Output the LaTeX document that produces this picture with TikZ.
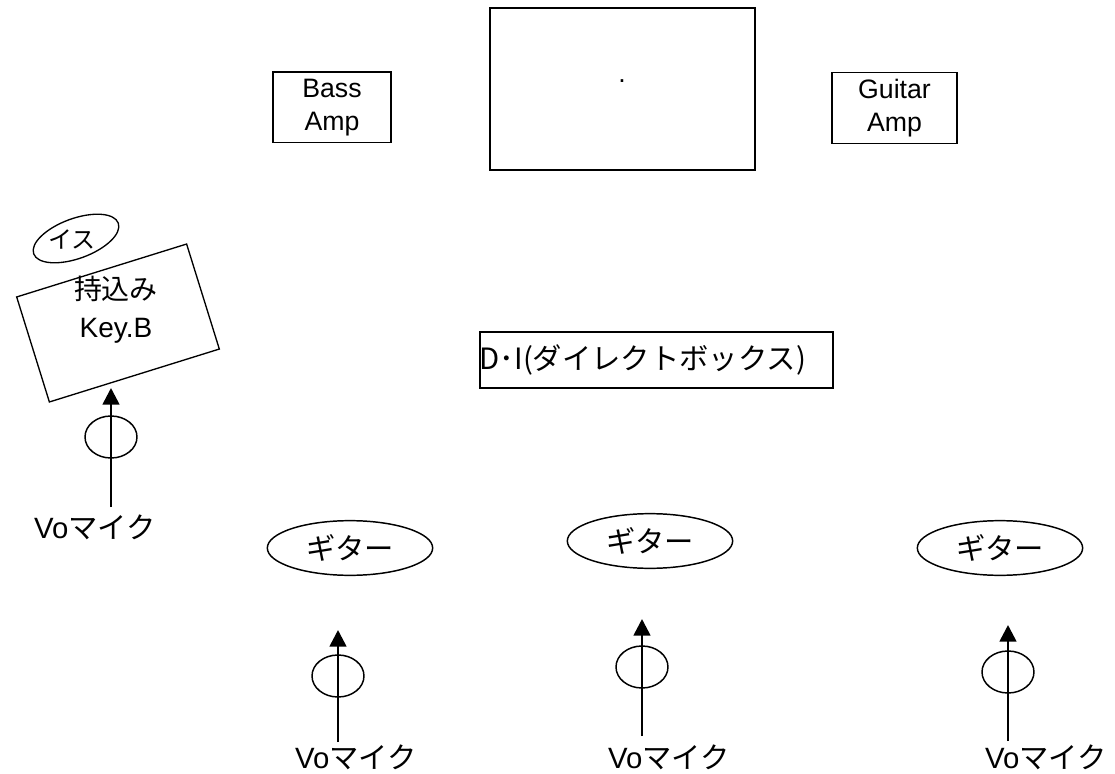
\documentclass[tikz,border=0pt]{standalone}
\usepackage{fontspec}
\setmainfont{Liberation Sans}
\newfontfamily\cjk{Noto Sans CJK JP}
\usetikzlibrary{arrows.meta,shapes.geometric}

\begin{document}
\begin{tikzpicture}[x=0.75pt,y=-0.75pt,
        ampbox/.style={draw=black, line width=1pt, align=center, inner sep=0pt,
            minimum width=#1, minimum height=53pt, font=\fontsize{20}{24.75}\selectfont},
        guitar/.style={draw=black, ellipse, line width=1.1pt, inner sep=0pt,
            minimum width=124pt, minimum height=41pt, font=\cjk\fontsize{22}{24}\selectfont},
        micring/.style={draw=black, ellipse, line width=1.1pt, minimum width=39pt, minimum height=31.5pt},
        micline/.style={draw=black, line width=2pt, -{Triangle[length=12.5pt,width=12.5pt]}},
        miclabel/.style={anchor=base, inner sep=0pt, font=\fontsize{22}{24}\selectfont}]
    \useasboundingbox (0,0) rectangle (1115,774);

    % amps and the box at the back
    \node (bass) [ampbox=88.5pt] at (332,107.5) {Bass\\Amp};
    \node (back) [draw=black, line width=1.6pt, minimum width=198.75pt, minimum height=121.5pt] at (622.5,89) {};
    \node (dot) [anchor=base, font=\fontsize{20}{20}\selectfont, inner sep=0pt] at (622,83) {.};
    \node (gtamp) [ampbox=93.75pt] at (894.5,108) {Guitar\\Amp};

    % keyboard
    \node (isu) [draw=black, ellipse, rotate=20, line width=1pt, minimum width=67.5pt, minimum height=30pt] at (76,238.5) {};
    \node [font=\cjk\fontsize{18}{20}\selectfont] at (72,239) {イス};
    \node (key) [draw=black, rotate=17.3, line width=1pt, minimum width=133.5pt, minimum height=82.5pt] at (118,323) {};
    \node (keytxt) [align=center, font=\fontsize{21}{28.5}\selectfont] at (116,310) {{\cjk 持込み}\\Key.B};

    % D.I.
    \node (di) [draw=black, line width=1pt, minimum width=264.75pt, minimum height=42pt] at (656.5,360) {};
    \node [anchor=west, inner sep=0pt, font=\cjk\fontsize{22}{24}\selectfont] at (di.west) {D･I(ダイレクトボックス)};

    % guitars
    \node (gt1) [guitar] at (350,548) {ギター};
    \node (gt2) [guitar] at (650,541) {ギター};
    \node (gt3) [guitar] at (1000,548) {ギター};

    % vocal mics
    \foreach \n/\x/\tip/\mid/\base/\lx/\ly in {0/111/388/437/507/95/538, 1/338/630/676/742/356/768,
            2/642/619/667/736/669/768, 3/1008/625/672/741/1046/768}{
        \coordinate (tip\n) at (\x,\tip);
        \coordinate (base\n) at (\x,\base);
        \node (ring\n) [micring] at (\x,\mid) {};
        \node (vo\n) [miclabel] at (\lx,\ly) {Vo{\cjk マイク}};
        \draw [micline] (base\n) -- (tip\n);
    }
\end{tikzpicture}
\end{document}
